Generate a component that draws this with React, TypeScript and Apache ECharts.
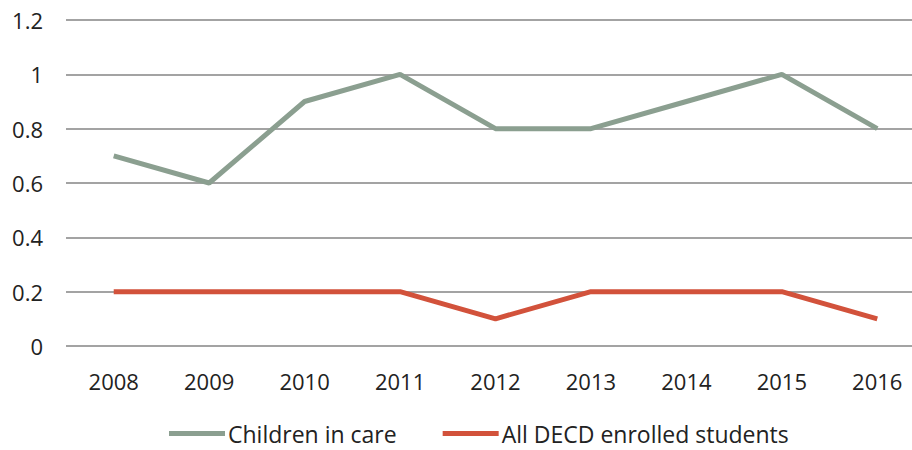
import React, { useEffect, useRef } from "react";
import * as echarts from "echarts";

const years = ["2008", "2009", "2010", "2011", "2012", "2013", "2014", "2015", "2016"];
const childrenInCare = [0.7, 0.6, 0.9, 1.0, 0.8, 0.8, 0.9, 1.0, 0.8];
const allDecdStudents = [0.2, 0.2, 0.2, 0.2, 0.1, 0.2, 0.2, 0.2, 0.1];

const FONT = "'Open Sans', 'Liberation Sans', sans-serif";

export default function App() {
  const ref = useRef<HTMLDivElement>(null);

  useEffect(() => {
    if (!ref.current) return;
    const chart = echarts.init(ref.current, null, { renderer: "svg" });
    chart.setOption({
      animation: false,
      backgroundColor: "#ffffff",
      grid: { left: 66, right: 5, top: 20, bottom: 104, containLabel: false },
      legend: {
        bottom: 0,
        left: 164,
        itemWidth: 56,
        itemHeight: 5,
        itemGap: 46,
        icon: "rect",
        textStyle: { fontFamily: FONT, fontSize: 23, color: "#222", padding: [0, 0, 0, -2] },
        data: ["Children in care", "All DECD enrolled students"],
      },
      xAxis: {
        type: "category",
        data: years,
        boundaryGap: true,
        axisLine: { show: false },
        axisTick: { show: false },
        axisLabel: { fontFamily: FONT, fontSize: 22, color: "#222", margin: 24 },
      },
      yAxis: {
        type: "value",
        min: 0,
        max: 1.2,
        interval: 0.2,
        axisLine: { show: false },
        axisTick: { show: false },
        axisLabel: {
          fontFamily: FONT,
          fontSize: 22,
          color: "#222",
          margin: 23,
          formatter: (v: number) => String(Math.round(v * 10) / 10),
        },
        splitLine: { lineStyle: { color: "#a3a3a3", width: 2 } },
      },
      series: [
        {
          name: "Children in care",
          type: "line",
          data: childrenInCare,
          symbol: "none",
          lineStyle: { color: "#8b9f90", width: 5 },
          itemStyle: { color: "#8b9f90" },
        },
        {
          name: "All DECD enrolled students",
          type: "line",
          data: allDecdStudents,
          symbol: "none",
          lineStyle: { color: "#d2523b", width: 5 },
          itemStyle: { color: "#d2523b" },
        },
      ],
    });
    return () => chart.dispose();
  }, []);

  return (
    <div style={{ position: "fixed", left: 0, top: 0, width: 912, height: 450, overflow: "hidden", background: "#fff" }}>
      <div ref={ref} style={{ width: 930, height: 450 }} />
    </div>
  );
}
